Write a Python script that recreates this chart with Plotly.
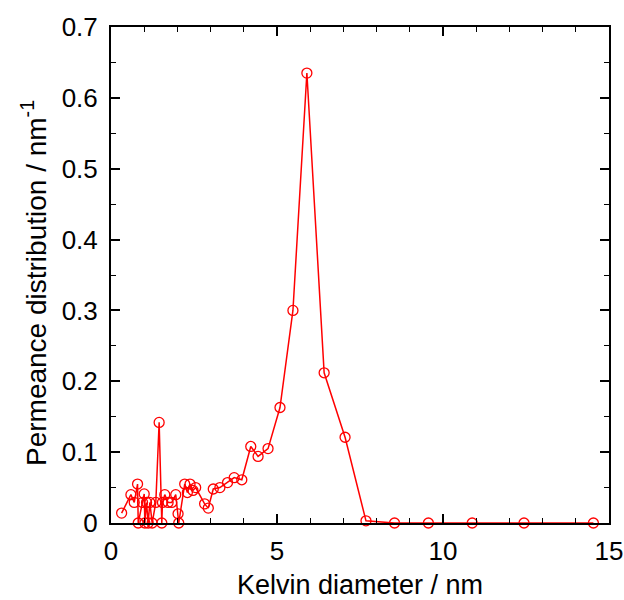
import plotly.graph_objects as go

kelvin_diameter = [0.32, 0.60, 0.70, 0.80, 0.82, 0.95, 1.00, 1.02, 1.07, 1.12, 1.17, 1.24,
                   1.35, 1.45, 1.53, 1.55, 1.62, 1.72, 1.83, 1.95, 2.02, 2.04, 2.22, 2.30,
                   2.38, 2.47, 2.55, 2.82, 2.93, 3.08, 3.28, 3.51, 3.71, 3.94, 4.21, 4.43,
                   4.73, 5.09, 5.48, 5.90, 6.42, 7.05, 7.68, 8.54, 9.56, 10.88, 12.44, 14.53]
permeance = [0.014, 0.040, 0.029, 0.055, 0.0, 0.029, 0.041, 0.0, 0.029, 0.0, 0.029, 0.0,
             0.029, 0.142, 0.0, 0.029, 0.040, 0.029, 0.029, 0.040, 0.013, 0.0, 0.055, 0.043,
             0.055, 0.046, 0.050, 0.027, 0.021, 0.048, 0.050, 0.057, 0.064, 0.061, 0.108, 0.094,
             0.105, 0.163, 0.300, 0.635, 0.212, 0.121, 0.003, 0.0, 0.0, 0.0, 0.0, 0.0]

x_ticks = [0, 5, 10, 15]
y_ticks = [0, 0.1, 0.2, 0.3, 0.4, 0.5, 0.6, 0.7]
y_tick_labels = ["0", "0.1", "0.2", "0.3", "0.4", "0.5", "0.6", "0.7"]
x_title = "Kelvin diameter / nm"
y_title = "Permeance distribution / nm<sup>-1</sup>"

fig = go.Figure(go.Scatter(
    x=kelvin_diameter, y=permeance, mode="lines+markers",
    line=dict(color="#ff0000", width=1.5),
    marker=dict(symbol="circle-open", size=10, color="#ff0000", line=dict(width=1.3)),
    cliponaxis=False,
))

font = "Liberation Sans, Arial, sans-serif"
axis_common = dict(
    showline=True, linecolor="black", linewidth=2, mirror="ticks",
    ticks="inside", ticklen=9, tickwidth=1.5, tickcolor="black",
    showgrid=False, zeroline=False,
    tickfont=dict(family=font, size=26, color="black"),
)
fig.update_xaxes(range=[0, 15], tickvals=x_ticks, ticktext=[str(v) for v in x_ticks],
                 ticklabelstandoff=4, ticklabeloverflow="allow",
                 minor=dict(dtick=1, ticks="inside", ticklen=5, tickwidth=1.2, tickcolor="black"),
                 **axis_common)
fig.update_yaxes(range=[0, 0.7], tickvals=y_ticks, ticktext=y_tick_labels,
                 ticklabelstandoff=6,
                 minor=dict(dtick=0.05, ticks="inside", ticklen=5, tickwidth=1.2, tickcolor="black"),
                 **axis_common)

# Axis titles as annotations so their pixel positions can be set precisely.
fig.add_annotation(text=x_title, xref="paper", yref="paper", x=0.5, y=0,
                   xanchor="center", yanchor="top", yshift=-45, showarrow=False,
                   font=dict(family=font, size=27, color="black"))
fig.add_annotation(text=y_title, xref="paper", yref="paper", x=0, y=0.5,
                   xanchor="center", yanchor="middle", xshift=-77, yshift=-8,
                   textangle=-90, showarrow=False,
                   font=dict(family=font, size=28, color="black"))

fig.update_layout(
    width=624, height=600,
    margin=dict(l=111, r=15, t=27, b=77, autoexpand=False),
    plot_bgcolor="white", paper_bgcolor="white",
    showlegend=False,
)
# Remove the page's default body margin so the 624x600 figure fills the window exactly.
fig.write_html("out.html", config={"displayModeBar": False},
               post_script="document.body.style.margin='0';document.body.style.overflow='hidden';")
